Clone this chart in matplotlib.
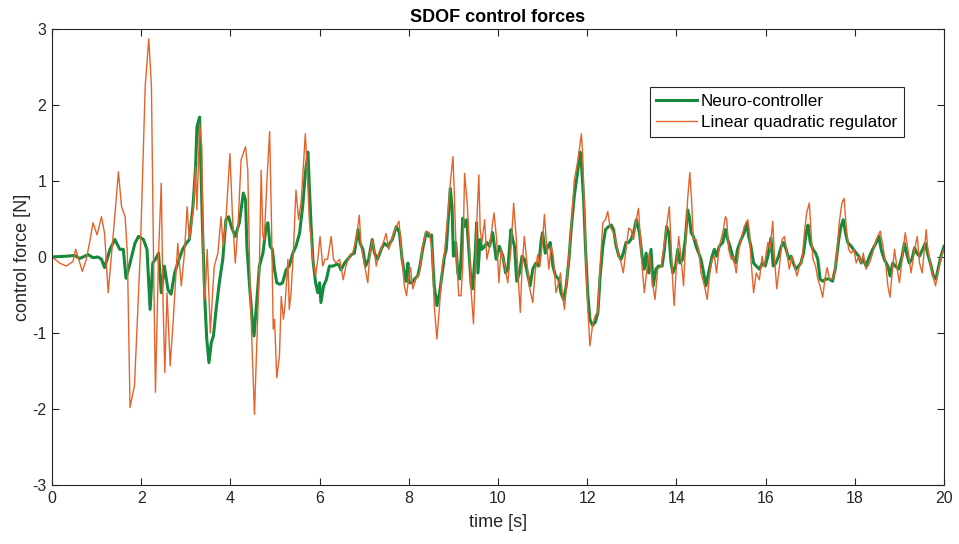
import numpy as np
import matplotlib
matplotlib.use("Agg")
import matplotlib.pyplot as plt

# ------------------------------------------------------------------
# valores (tempo [s], força [N])
# ------------------------------------------------------------------
t_neuro = [0.0, 0.32, 0.51, 0.62, 0.81, 0.92, 1.03, 1.11, 1.18, 1.30, 1.41, 1.52, 1.60, 1.66, 1.75,
           1.86, 1.94, 2.05, 2.13, 2.20, 2.26, 2.32, 2.39, 2.45, 2.52, 2.60, 2.67, 2.75, 2.82, 2.93,
           3.01, 3.08, 3.16, 3.22, 3.25, 3.31, 3.33, 3.38, 3.43, 3.47, 3.52, 3.57, 3.62, 3.68, 3.76,
           3.83, 3.90, 3.96, 4.02, 4.11, 4.20, 4.29, 4.34, 4.37, 4.43, 4.49, 4.53, 4.59, 4.65, 4.73,
           4.80, 4.84, 4.89, 4.94, 4.99, 5.04, 5.11, 5.17, 5.25, 5.32, 5.40, 5.47, 5.55, 5.62, 5.68,
           5.74, 5.77, 5.81, 5.85, 5.91, 5.96, 6.00, 6.03, 6.09, 6.15, 6.22, 6.30, 6.37, 6.43, 6.48,
           6.56, 6.63, 6.71, 6.78, 6.86, 6.91, 6.97, 7.03, 7.10, 7.18, 7.23, 7.30, 7.38, 7.45, 7.53,
           7.63, 7.72, 7.79, 7.85, 7.90, 7.94, 7.98, 8.01, 8.07, 8.13, 8.20, 8.25, 8.31, 8.39, 8.45,
           8.51, 8.54, 8.57, 8.63, 8.69, 8.75, 8.80, 8.84, 8.87, 8.93, 8.97, 9.00, 9.05, 9.10, 9.14,
           9.17, 9.21, 9.25, 9.30, 9.34, 9.40, 9.43, 9.49, 9.52, 9.55, 9.60, 9.64, 9.70, 9.75, 9.81,
           9.88, 9.96, 10.03, 10.11, 10.17, 10.22, 10.29, 10.33, 10.37, 10.42, 10.48, 10.54, 10.59,
           10.64, 10.72, 10.78, 10.85, 10.91, 10.97, 11.00, 11.06, 11.12, 11.17, 11.23, 11.29, 11.36,
           11.41, 11.47, 11.53, 11.59, 11.64, 11.71, 11.79, 11.84, 11.87, 11.92, 11.96, 12.01, 12.06,
           12.12, 12.18, 12.24, 12.29, 12.35, 12.41, 12.48, 12.54, 12.59, 12.65, 12.71, 12.76, 12.81,
           12.87, 12.93, 12.98, 13.04, 13.10, 13.17, 13.23, 13.28, 13.32, 13.38, 13.43, 13.48, 13.54,
           13.60, 13.68, 13.73, 13.78, 13.83, 13.88, 13.92, 13.98, 14.03, 14.08, 14.14, 14.20, 14.25,
           14.29, 14.33, 14.38, 14.44, 14.50, 14.55, 14.61, 14.66, 14.74, 14.80, 14.85, 14.90, 14.96,
           15.04, 15.10, 15.15, 15.20, 15.26, 15.32, 15.37, 15.45, 15.52, 15.58, 15.62, 15.67, 15.73,
           15.79, 15.86, 15.93, 15.99, 16.05, 16.12, 16.17, 16.23, 16.29, 16.35, 16.40, 16.46, 16.52,
           16.57, 16.62, 16.68, 16.74, 16.79, 16.85, 16.91, 16.95, 17.00, 17.06, 17.12, 17.17, 17.22,
           17.28, 17.35, 17.43, 17.50, 17.56, 17.64, 17.69, 17.74, 17.79, 17.84, 17.92, 17.97, 18.03,
           18.09, 18.14, 18.19, 18.25, 18.33, 18.40, 18.48, 18.54, 18.59, 18.66, 18.74, 18.79, 18.85,
           18.91, 18.98, 19.06, 19.11, 19.16, 19.22, 19.28, 19.34, 19.39, 19.45, 19.52, 19.58, 19.63,
           19.71, 19.76, 19.82, 19.88, 19.93, 20.0]
f_neuro = [0.0, 0.01, 0.02, -0.02, 0.03, -0.01, 0.0, -0.03, -0.14, 0.10, 0.23, 0.10, 0.10, -0.28, -0.08,
           0.18, 0.27, 0.23, 0.10, -0.69, -0.08, -0.03, 0.05, -0.47, -0.12, -0.43, -0.49, -0.21, -0.08, 0.10,
           0.18, 0.23, 0.66, 1.19, 1.71, 1.84, 1.36, 0.27, -0.60, -1.08, -1.39, -1.13, -1.04, -0.69, -0.30,
           -0.03, 0.49, 0.53, 0.40, 0.27, 0.45, 0.84, 0.75, 0.14, -0.38, -0.82, -1.04, -0.60, -0.12, 0.05,
           0.40, 0.45, 0.14, 0.10, -0.17, -0.34, -0.36, -0.34, -0.17, -0.12, 0.05, 0.14, 0.31, 0.66, 1.10,
           1.38, 0.93, 0.40, -0.03, -0.34, -0.47, -0.34, -0.60, -0.38, -0.30, -0.12, -0.12, -0.10, -0.10, -0.17,
           -0.08, -0.03, 0.03, 0.05, 0.36, 0.18, 0.10, -0.12, -0.03, 0.23, 0.05, -0.03, 0.10, 0.18, 0.14,
           0.23, 0.40, 0.32, -0.03, -0.21, -0.32, -0.08, -0.34, -0.34, -0.29, -0.25, -0.12, 0.10, 0.32, 0.27,
           0.29, -0.08, -0.38, -0.64, -0.47, -0.21, 0.01, 0.10, 0.36, 0.90, 0.66, 0.01, 0.19, -0.21, -0.29,
           -0.03, 0.51, 0.40, 0.49, 0.14, -0.38, -0.42, 0.05, 0.45, -0.21, 0.23, 0.10, 0.14, 0.19, 0.14,
           0.32, -0.03, 0.14, 0.01, -0.21, -0.16, 0.36, 0.23, 0.14, -0.32, -0.21, 0.01, -0.03,
           -0.16, -0.38, -0.16, -0.08, -0.12, 0.23, 0.32, 0.05, 0.14, 0.19, -0.12, -0.25, -0.29,
           -0.47, -0.56, -0.38, -0.03, 0.36, 0.80, 1.14, 1.38, 1.23, 0.75, 0.14, -0.47, -0.82,
           -0.90, -0.86, -0.73, -0.25, 0.14, 0.36, 0.40, 0.42, 0.36, 0.14, 0.01, -0.03, 0.05,
           0.19, 0.19, 0.23, 0.32, 0.49, 0.32, 0.01, -0.16, 0.05, -0.21, 0.10, -0.38, -0.16,
           -0.12, -0.12, 0.10, 0.40, 0.32, -0.08, -0.21, -0.12, 0.10, -0.08, -0.03, 0.23, 0.62,
           0.53, 0.32, 0.27, 0.14, 0.05, -0.03, -0.21, -0.38, -0.16, 0.01, 0.10, 0.01, 0.14,
           0.19, 0.36, 0.23, 0.14, 0.01, -0.08, 0.10, 0.23, 0.32, 0.45, 0.27, 0.14, -0.08,
           -0.12, -0.16, -0.08, -0.12, 0.01, 0.25, -0.12, -0.08, 0.01, 0.14, 0.19, 0.10, -0.03,
           0.01, -0.08, -0.16, -0.12, -0.08, 0.05, 0.32, 0.42, 0.19, 0.10, 0.05, -0.03, -0.29,
           -0.32, -0.29, -0.29, -0.32, -0.16, 0.23, 0.40, 0.49, 0.32, 0.19, 0.14, 0.10, 0.05,
           0.01, -0.08, -0.03, -0.12, 0.01, 0.10, 0.19, 0.27, 0.10, -0.03, -0.12, -0.25, -0.08,
           -0.12, -0.16, 0.01, 0.18, 0.05, -0.08, -0.03, 0.12, 0.05, 0.01, 0.10, 0.18, 0.05,
           -0.12, -0.25, -0.29, -0.12, 0.01, 0.14]

t_lqr = [0.0, 0.17, 0.32, 0.47, 0.53, 0.60, 0.68, 0.77, 0.85, 0.92, 1.01, 1.11, 1.18, 1.26, 1.37,
         1.49, 1.56, 1.64, 1.69, 1.75, 1.85, 1.98, 2.09, 2.17, 2.23, 2.28, 2.32, 2.39, 2.45, 2.49,
         2.53, 2.58, 2.65, 2.72, 2.82, 2.90, 2.97, 3.03, 3.08, 3.16, 3.22, 3.25, 3.31, 3.36, 3.40,
         3.43, 3.48, 3.55, 3.61, 3.64, 3.72, 3.79, 3.84, 3.90, 3.99, 4.05, 4.11, 4.17, 4.24, 4.34,
         4.39, 4.44, 4.49, 4.54, 4.61, 4.65, 4.69, 4.73, 4.76, 4.82, 4.88, 4.92, 4.96, 4.99, 5.04,
         5.10, 5.14, 5.19, 5.23, 5.29, 5.32, 5.36, 5.41, 5.47, 5.53, 5.59, 5.64, 5.68, 5.71, 5.77,
         5.85, 5.91, 5.96, 6.01, 6.07, 6.12, 6.18, 6.26, 6.31, 6.37, 6.45, 6.53, 6.59, 6.67, 6.74,
         6.82, 6.89, 6.93, 7.01, 7.08, 7.13, 7.19, 7.27, 7.33, 7.38, 7.45, 7.49, 7.55, 7.64, 7.72,
         7.78, 7.85, 7.90, 7.95, 8.00, 8.04, 8.09, 8.16, 8.24, 8.31, 8.39, 8.46, 8.52, 8.57, 8.63,
         8.69, 8.75, 8.80, 8.87, 8.93, 8.99, 9.02, 9.06, 9.12, 9.17, 9.21, 9.25, 9.31, 9.36, 9.40,
         9.45, 9.49, 9.52, 9.57, 9.60, 9.64, 9.70, 9.75, 9.81, 9.91, 9.97, 10.02, 10.07, 10.14,
         10.22, 10.29, 10.35, 10.41, 10.45, 10.50, 10.54, 10.59, 10.64, 10.70, 10.78, 10.83, 10.89,
         10.94, 11.00, 11.04, 11.08, 11.14, 11.19, 11.24, 11.30, 11.36, 11.40, 11.44, 11.49, 11.56,
         11.64, 11.71, 11.79, 11.83, 11.87, 11.90, 11.94, 11.97, 12.01, 12.06, 12.12, 12.18, 12.24,
         12.29, 12.35, 12.41, 12.46, 12.51, 12.59, 12.65, 12.71, 12.76, 12.81, 12.87, 12.93, 12.98,
         13.04, 13.10, 13.15, 13.23, 13.28, 13.33, 13.39, 13.45, 13.52, 13.58, 13.66, 13.71, 13.77,
         13.84, 13.88, 13.92, 13.95, 13.99, 14.05, 14.10, 14.16, 14.20, 14.25, 14.30, 14.34, 14.38,
         14.44, 14.50, 14.55, 14.63, 14.69, 14.74, 14.80, 14.85, 14.90, 14.96, 15.04, 15.10, 15.13,
         15.17, 15.23, 15.28, 15.34, 15.40, 15.45, 15.52, 15.60, 15.64, 15.67, 15.73, 15.79, 15.86,
         15.92, 15.97, 16.05, 16.10, 16.16, 16.20, 16.25, 16.31, 16.37, 16.42, 16.47, 16.53, 16.59,
         16.64, 16.70, 16.76, 16.82, 16.87, 16.92, 16.98, 17.02, 17.06, 17.12, 17.17, 17.22, 17.28,
         17.33, 17.38, 17.43, 17.49, 17.54, 17.59, 17.65, 17.71, 17.76, 17.80, 17.86, 17.92, 17.98,
         18.03, 18.09, 18.14, 18.19, 18.25, 18.33, 18.40, 18.48, 18.57, 18.63, 18.69, 18.74, 18.79,
         18.83, 18.89, 18.94, 19.00, 19.06, 19.13, 19.19, 19.26, 19.34, 19.40, 19.45, 19.51, 19.56,
         19.60, 19.63, 19.69, 19.75, 19.81, 19.86, 19.91, 19.96, 20.0]
f_lqr = [0.0, -0.08, -0.12, -0.06, 0.10, -0.03, -0.19, -0.03, 0.21, 0.45, 0.29, 0.53, 0.31, -0.47, 0.27,
         1.12, 0.66, 0.53, 0.05, -1.98, -1.69, 0.05, 2.24, 2.87, 2.24, -0.17, -1.78, 0.05, 0.97, -0.60,
         -1.52, -0.47, -1.43, -0.82, 0.18, -0.38, 0.05, 0.66, 0.23, 0.58, 1.19, 0.62, 1.75, 1.45, -0.38,
         -0.56, 0.10, -1.00, -0.38, -0.12, 0.05, 0.53, 0.14, 0.49, 1.36, 0.49, -0.08, 0.40, 1.28, 1.45,
         1.14, -0.38, -1.26, -2.07, -0.82, -0.12, 1.14, 0.27, 0.23, 1.01, 1.65, 0.49, -0.95, -0.82, -1.59,
         -1.30, -0.52, -0.82, -0.60, -0.03, -0.69, -0.47, 0.05, 0.88, 0.49, 0.75, 1.23, 1.62, 1.28, 0.49,
         -0.03, -0.25, -0.03, 0.27, -0.12, -0.03, -0.03, 0.27, -0.03, -0.08, -0.03, -0.30, -0.12, 0.01, 0.05,
         0.23, 0.55, 0.14, -0.12, -0.34, 0.05, 0.23, -0.12, 0.05, 0.10, 0.23, 0.31, 0.10, 0.27, 0.40,
         0.47, -0.03, -0.38, -0.51, -0.25, -0.14, -0.42, -0.29, -0.21, 0.14, 0.34, 0.32, 0.10, -0.64, -1.08,
         -0.64, -0.12, 0.05, 0.53, 0.97, 1.32, 0.84, 0.10, -0.51, -0.51, -0.12, 1.10, 0.71, 0.10, -0.47,
         -0.88, -0.21, 0.40, 1.08, 0.36, 0.19, 0.49, -0.03, 0.14, 0.58, 0.23, -0.34, 0.10, -0.08,
         -0.34, 0.10, 0.71, 0.23, -0.25, -0.73, -0.12, 0.27, -0.03, -0.38, -0.60, -0.21, 0.03,
         -0.12, 0.23, 0.56, 0.23, -0.16, 0.14, 0.01, -0.47, -0.34, -0.21, -0.47, -0.69, -0.21,
         0.40, 1.01, 1.27, 1.45, 1.62, 1.32, 0.62, -0.03, -0.64, -1.17, -0.90, -0.77, -0.73,
         -0.12, 0.45, 0.49, 0.60, 0.40, 0.32, 0.19, 0.01, -0.08, -0.21, 0.10, 0.38, 0.36,
         0.23, 0.49, 0.64, -0.12, -0.47, -0.21, 0.05, -0.29, -0.56, -0.16, -0.12, 0.10, 0.36,
         0.66, 0.19, -0.38, -0.64, -0.21, 0.27, 0.01, -0.38, 0.10, 0.75, 1.11, 0.75, 0.23,
         0.23, 0.10, -0.21, -0.38, -0.56, -0.25, -0.03, 0.01, -0.21, 0.14, 0.32, 0.53, 0.49,
         0.10, -0.03, 0.01, -0.21, 0.10, 0.23, 0.40, 0.49, 0.32, -0.03, -0.47, -0.21, -0.30,
         0.01, -0.12, 0.19, 0.10, 0.47, -0.03, -0.42, -0.12, 0.23, 0.27, 0.10, -0.16, 0.01,
         -0.08, -0.25, -0.12, -0.03, 0.32, 0.58, 0.71, 0.32, -0.03, -0.12, -0.29, -0.38, -0.53,
         -0.29, -0.14, -0.29, -0.29, -0.25, 0.01, 0.45, 0.71, 0.77, 0.45, 0.10, 0.05, 0.10,
         -0.08, 0.01, -0.08, 0.05, -0.16, -0.08, 0.05, 0.23, 0.34, 0.14, -0.08, -0.38, -0.53,
         -0.25, 0.10, -0.12, -0.34, -0.03, 0.32, 0.10, -0.21, 0.10, 0.27, -0.08, -0.21, 0.10,
         0.36, 0.14, -0.08, -0.25, -0.38, -0.21, -0.08, 0.05, 0.10]

# ------------------------------------------------------------------
# estilo parecido com o MATLAB
# ------------------------------------------------------------------
plt.rcParams['font.family'] = ['Liberation Sans', 'DejaVu Sans']
plt.rcParams['axes.unicode_minus'] = False
cinza = (0.15, 0.15, 0.15)

fig = plt.figure(figsize=(9.59, 5.44), dpi=100)
ax = fig.add_axes([0.0542, 0.1085, 0.9302, 0.8383])

ax.plot(t_neuro, f_neuro, color="#168a3c", linewidth=2.2, label="Neuro-controller")
ax.plot(t_lqr, f_lqr, color="#e4632a", linewidth=1.0, label="Linear quadratic regulator")

ax.set_xlim(0, 20)
ax.set_ylim(-3, 3)
ax.set_xticks(np.arange(0, 21, 2))
ax.set_yticks(np.arange(-3, 4, 1))

ax.tick_params(direction="in", top=True, right=True, length=5, width=0.8,
               colors=cinza, labelsize=11.5, labelcolor=cinza, pad=4)
for s in ax.spines.values():
    s.set_color(cinza)
    s.set_linewidth(0.8)

ax.set_title("SDOF control forces", fontsize=13, fontweight="bold", color="black", pad=5)
ax.set_xlabel("time [s]", fontsize=13, color=cinza, labelpad=6)
ax.set_ylabel("control force [N]", fontsize=13, color=cinza, labelpad=1)

leg = ax.legend(loc="upper left", bbox_to_anchor=(0.670, 0.873), fontsize=12.3,
                frameon=True, fancybox=False, framealpha=1, edgecolor=cinza,
                handlelength=2.4, borderpad=0.4, labelspacing=0.35, handletextpad=0.2,
                borderaxespad=0)
leg.get_frame().set_linewidth(0.8)

plt.savefig("out.png", dpi=100)
